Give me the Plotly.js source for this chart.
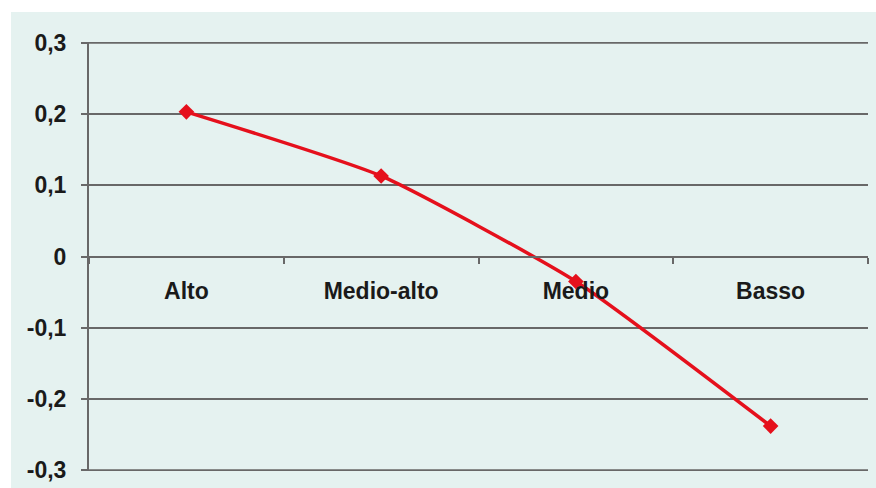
<!DOCTYPE html>
<html>
<head>
<meta charset="utf-8">
<script src="https://cdn.plot.ly/plotly-3.0.1.min.js"></script>
<style>html,body{margin:0;padding:0;background:#fff;}#chart{width:876px;height:488px;}</style>
</head>
<body>
<div id="chart"></div>
<script>
const categories = ["Alto", "Medio-alto", "Medio", "Basso"];
const values = [0.203, 0.113, -0.035, -0.238];
const yTickVals = [-0.3, -0.2, -0.1, 0, 0.1, 0.2, 0.3];
const yTickLabels = ["-0,3", "-0,2", "-0,1", "0", "0,1", "0,2", "0,3"];

const W = 876, H = 488;
const M = {l: 89, r: 8, t: 42, b: 17};
const pw = W - M.l - M.r, ph = H - M.t - M.b;
const gridCol = "#686868";
const bg = "#e5f2f0";
const tickFont = {family: "Arial, 'Liberation Sans', sans-serif", size: 23, color: "#1a1a1a", weight: "bold"};

const trace = {
  x: categories,
  y: values,
  type: "scatter",
  mode: "lines+markers",
  line: {color: "#e5101c", width: 3.5, shape: "spline", smoothing: 0.5},
  marker: {symbol: "diamond", size: 12, color: "#e5101c"},
  hoverinfo: "skip",
  cliponaxis: false
};

const shapes = [{
  type: "rect", xref: "paper", yref: "paper", layer: "below",
  x0: (11 - M.l) / pw, x1: 1 + M.r / pw,
  y0: -M.b / ph, y1: 1 + (M.t - 12) / ph,
  fillcolor: bg, line: {width: 0}
}];
// edge gridlines (Plotly omits gridlines at the range ends)
[yTickVals[0], yTickVals[yTickVals.length - 1]].forEach(v => {
  shapes.push({
    type: "line", xref: "paper", yref: "y", layer: "below",
    x0: 0, x1: 1, y0: v, y1: v,
    line: {color: gridCol, width: 2}
  });
});

const layout = {
  width: W, height: H,
  margin: M,
  paper_bgcolor: "#ffffff",
  plot_bgcolor: "rgba(0,0,0,0)",
  showlegend: false,
  separators: ", ",
  xaxis: {
    type: "category",
    anchor: "free",
    position: 0.5,
    range: [-0.5, 3.5],
    showline: true, linecolor: gridCol, linewidth: 2,
    ticks: "outside", tickson: "boundaries", ticklen: 6, tickcolor: gridCol, tickwidth: 2,
    showgrid: false, zeroline: false,
    ticklabelstandoff: 14,
    tickfont: tickFont,
    fixedrange: true
  },
  yaxis: {
    range: [-0.301, 0.301],
    tickvals: yTickVals, ticktext: yTickLabels,
    showline: true, linecolor: gridCol, linewidth: 2,
    ticks: "outside", ticklen: 6, tickcolor: gridCol, tickwidth: 2,
    showgrid: true, gridcolor: gridCol, gridwidth: 2,
    zeroline: false,
    ticklabelstandoff: 10,
    tickfont: tickFont,
    fixedrange: true
  },
  shapes: shapes
};

Plotly.newPlot("chart", [trace], layout, {staticPlot: true, displayModeBar: false});
</script>
</body>
</html>
